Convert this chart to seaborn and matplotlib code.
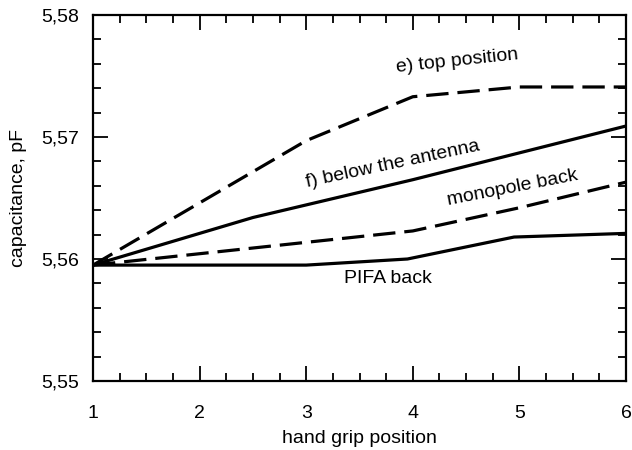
import numpy as np
import pandas as pd
import matplotlib
matplotlib.use('Agg')
import matplotlib.pyplot as plt
from matplotlib.ticker import MultipleLocator, FuncFormatter
import seaborn as sns

# Data
top_x = [1, 3, 4, 5, 6]
top_y = [5.5595, 5.5697, 5.5733, 5.5741, 5.5741]

below_x = [1, 2.5, 4, 6]
below_y = [5.5595, 5.5634, 5.5665, 5.5709]

mono_x = [1, 4, 5, 6]
mono_y = [5.5595, 5.5623, 5.5642, 5.5663]

pifa_x = [1, 3, 3.95, 4.95, 6]
pifa_y = [5.5595, 5.5595, 5.5600, 5.5618, 5.5621]

series_names = ['e) top position', 'f) below the antenna', 'monopole back', 'PIFA back']

frames = []
for name, xs, ys in zip(series_names,
                        [top_x, below_x, mono_x, pifa_x],
                        [top_y, below_y, mono_y, pifa_y]):
    frames.append(pd.DataFrame({'pos': xs, 'cap': ys, 'series': name}))
data = pd.concat(frames, ignore_index=True)

sns.set_style('ticks')
plt.rcParams['font.family'] = ['Liberation Sans', 'DejaVu Sans']
plt.rcParams['font.size'] = 14
plt.rcParams['text.color'] = 'black'
plt.rcParams['axes.labelcolor'] = 'black'

fig = plt.figure(figsize=(6.32, 4.5), dpi=100)
ax = fig.add_axes([93 / 632, 1 - 381 / 450, 533 / 632, 366 / 450])

dash_styles = {
    'e) top position': (7, 2.8),
    'f) below the antenna': '',
    'monopole back': (7, 2.8),
    'PIFA back': '',
}
sns.lineplot(data=data, x='pos', y='cap', hue='series', style='series',
             palette=['black'] * 4, dashes=dash_styles, linewidth=2.3,
             sort=False, legend=False, ax=ax)

ax.set_xlim(1, 6)
ax.set_ylim(5.55, 5.58)
ax.xaxis.set_major_locator(MultipleLocator(1))
ax.xaxis.set_minor_locator(MultipleLocator(0.25))
ax.yaxis.set_major_locator(MultipleLocator(0.01))
ax.yaxis.set_minor_locator(MultipleLocator(0.002))
ax.yaxis.set_major_formatter(FuncFormatter(lambda v, p: f'{v:.2f}'.replace('.', ',')))
ax.tick_params(which='both', direction='in', top=True, right=True,
               width=1.3, colors='black', labelsize=14)
ax.tick_params(which='major', length=11)
ax.tick_params(axis='x', which='major', pad=17)
ax.tick_params(axis='y', which='major', pad=10)
ax.tick_params(which='minor', length=5.5)
for s in ax.spines.values():
    s.set_linewidth(1.6)
    s.set_color('black')

ax.set_xlabel('hand grip position', fontsize=14, labelpad=6)
ax.set_ylabel('capacitance, pF', fontsize=14, labelpad=10)

ax.text(4.42, 5.5762, 'e) top position', rotation=6, ha='center', va='center', fontsize=14)
ax.text(3.81, 5.5678, 'f) below the antenna', rotation=12, ha='center', va='center', fontsize=14)
ax.text(4.94, 5.5658, 'monopole back', rotation=11, ha='center', va='center', fontsize=14)
ax.text(3.77, 5.5584, 'PIFA back', ha='center', va='center', fontsize=14)

fig.savefig('out.png', dpi=100)
